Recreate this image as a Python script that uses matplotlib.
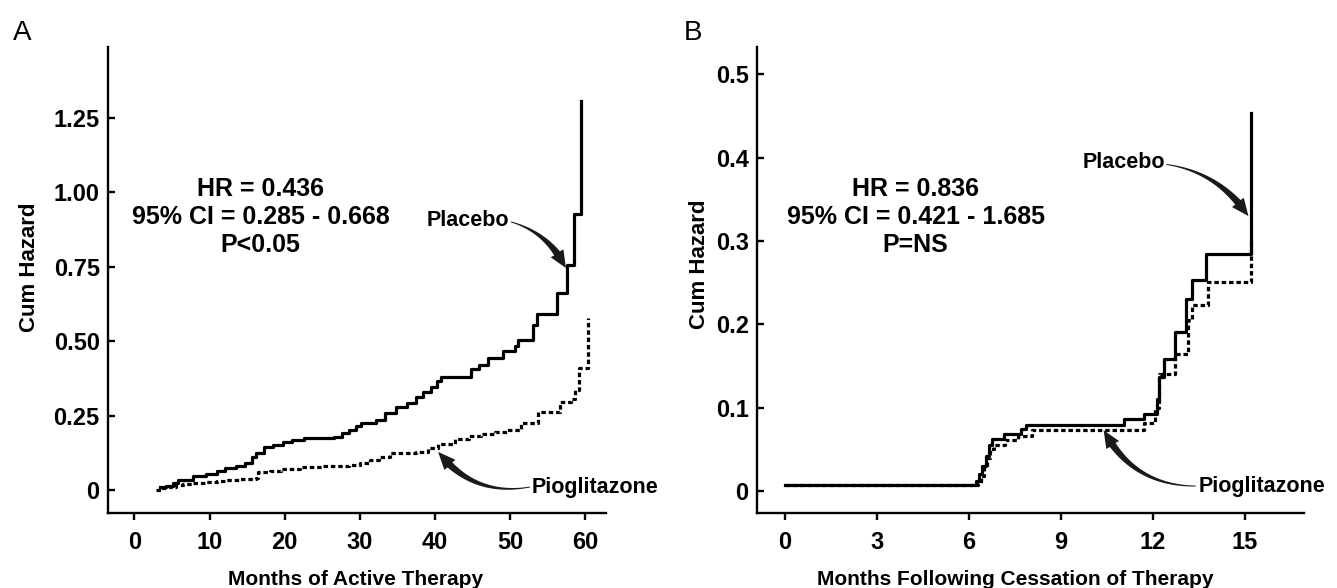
import numpy as np
import matplotlib
matplotlib.use("Agg")
import matplotlib.pyplot as plt
from matplotlib.patches import Polygon
from matplotlib.transforms import IdentityTransform

plt.rcParams["font.family"] = ["Liberation Sans", "DejaVu Sans"]
plt.rcParams["font.weight"] = "bold"
plt.rcParams["axes.labelweight"] = "bold"

# panel A - cumulative hazard during active therapy
a_placebo_months = [3.4, 4.2, 5.2, 5.8, 7.8, 9.5, 11.0, 12.0, 13.5, 14.7, 15.6, 16.2, 17.3, 18.5,
                    19.8, 21.0, 22.6, 24.5, 26.6, 27.6, 28.6, 29.5, 30.2, 32.2, 33.3, 34.8, 36.2,
                    37.5, 38.4, 39.5, 40.2, 40.8, 44.8, 45.9, 47.0, 49.0, 50.6, 51.0, 53.0, 53.5,
                    56.2, 57.6, 58.5, 59.4]
a_placebo_hazard = [0.011, 0.013, 0.022, 0.034, 0.047, 0.055, 0.065, 0.073, 0.082, 0.090, 0.110,
                    0.123, 0.145, 0.152, 0.162, 0.168, 0.173, 0.176, 0.179, 0.190, 0.201, 0.215,
                    0.226, 0.235, 0.260, 0.280, 0.293, 0.313, 0.330, 0.345, 0.367, 0.380, 0.405,
                    0.420, 0.444, 0.466, 0.483, 0.503, 0.554, 0.590, 0.660, 0.755, 0.928, 1.305]
a_pio_months = [2.9, 3.6, 4.5, 5.5, 6.5, 7.8, 9.5, 11.0, 12.0, 14.0, 16.2, 16.5, 18.0, 19.5, 22.0,
                25.0, 28.5, 30.0, 31.3, 32.5, 34.0, 36.0, 37.5, 39.0, 40.4, 42.6, 44.5, 46.1,
                48.0, 49.6, 51.4, 53.7, 56.6, 58.1, 58.6, 59.1, 60.4]
a_pio_hazard = [0.0, 0.006, 0.011, 0.017, 0.020, 0.024, 0.027, 0.031, 0.034, 0.036, 0.039, 0.061,
                0.065, 0.069, 0.076, 0.080, 0.084, 0.090, 0.100, 0.110, 0.123, 0.125, 0.128,
                0.140, 0.156, 0.170, 0.180, 0.188, 0.195, 0.201, 0.224, 0.262, 0.296, 0.305,
                0.336, 0.408, 0.576]

# panel B - cumulative hazard after cessation of therapy
b_placebo_months = [0, 6.25, 6.35, 6.45, 6.55, 6.65, 6.75, 7.16, 7.7, 7.87, 11.05, 11.73, 12.14,
                    12.22, 12.37, 12.74, 13.1, 13.27, 13.74, 15.2]
b_placebo_hazard = [0.007, 0.012, 0.020, 0.030, 0.042, 0.055, 0.063, 0.068, 0.074, 0.079, 0.087,
                    0.092, 0.111, 0.137, 0.159, 0.191, 0.231, 0.253, 0.285, 0.454]
b_pio_months = [0, 6.3, 6.4, 6.5, 6.6, 6.7, 6.82, 7.2, 7.6, 8.05, 11.73, 12.07, 12.22, 12.74,
                13.16, 13.27, 13.79, 15.2]
b_pio_hazard = [0.007, 0.010, 0.018, 0.028, 0.040, 0.050, 0.055, 0.061, 0.066, 0.073, 0.082,
                0.100, 0.141, 0.165, 0.205, 0.223, 0.251, 0.301]

a_xticks = [0, 10, 20, 30, 40, 50, 60]
a_yticks = [0, 0.25, 0.5, 0.75, 1.0, 1.25]
a_yticklabels = ["0", "0.25", "0.50", "0.75", "1.00", "1.25"]
b_xticks = [0, 3, 6, 9, 12, 15]
b_yticks = [0, 0.1, 0.2, 0.3, 0.4, 0.5]
b_yticklabels = ["0", "0.1", "0.2", "0.3", "0.4", "0.5"]

a_stats = "HR = 0.436\n95% CI = 0.285 - 0.668\nP<0.05"
b_stats = "HR = 0.836\n95% CI = 0.421 - 1.685\nP=NS"

fig = plt.figure(figsize=(13.37, 5.88), dpi=100)
ax_a = fig.add_axes([0.0808, 0.1276, 0.3725, 0.7925])
ax_b = fig.add_axes([0.5662, 0.1276, 0.4091, 0.7925])


def style_axes(ax):
    for side in ("top", "right"):
        ax.spines[side].set_visible(False)
    for side in ("left", "bottom"):
        ax.spines[side].set_linewidth(1.7)
    ax.tick_params(axis="x", direction="out", length=5, width=1.7, pad=8, labelsize=17)
    ax.tick_params(axis="y", direction="in", length=5, width=1.7, pad=6, labelsize=17)


def curved_arrow(ax, tail, tip, bend, w_tail=1.0, w_body=7.0, head_len=17, head_w=15):
    # tapered curved arrow, built in pixel space
    p0 = ax.transData.transform(tail)
    p2 = ax.transData.transform(tip)
    d = p2 - p0
    dist = np.hypot(*d)
    n = np.array([-d[1], d[0]]) / dist
    p1 = (p0 + p2) / 2 + bend * dist * n
    t = np.linspace(0, 1, 120)[:, None]
    pts = (1 - t) ** 2 * p0 + 2 * (1 - t) * t * p1 + t ** 2 * p2
    s = np.concatenate([[0], np.cumsum(np.hypot(*np.diff(pts, axis=0).T))])
    keep = s <= s[-1] - head_len
    body, sb = pts[keep], s[keep]
    tang = np.gradient(body, axis=0)
    tang /= np.hypot(tang[:, 0], tang[:, 1])[:, None]
    nrm = np.column_stack([-tang[:, 1], tang[:, 0]])
    w = w_tail + (w_body - w_tail) * (sb / sb[-1]) ** 1.4
    left = body + nrm * w[:, None] / 2
    right = body - nrm * w[:, None] / 2
    hb = body[-1]
    hd = (p2 - hb) / np.hypot(*(p2 - hb))
    hn = np.array([-hd[1], hd[0]])
    head = [hb + hn * head_w / 2, p2, hb - hn * head_w / 2]
    poly = np.vstack([left, head, right[::-1]])
    fig.add_artist(Polygon(poly, closed=True, facecolor="#1a1a1a", edgecolor="none",
                           transform=IdentityTransform(), clip_on=False))


# panel A
style_axes(ax_a)
ax_a.step(a_pio_months, a_pio_hazard, where="post", color="black", lw=2.3, ls=(0, (1.4, 0.9)))
ax_a.step(a_placebo_months, a_placebo_hazard, where="post", color="black", lw=2.3)
ax_a.set_xlim(-3.5, 62.74)
ax_a.set_ylim(-0.077, 1.487)
ax_a.set_xticks(a_xticks)
ax_a.set_yticks(a_yticks)
ax_a.set_yticklabels(a_yticklabels)
ax_a.set_xlabel("Months of Active Therapy", fontsize=15)
ax_a.xaxis.set_label_coords(0.498, -0.122)
ax_a.set_ylabel("Cum Hazard", fontsize=16, va="center")
ax_a.yaxis.set_label_coords(-0.158, 0.528)
ax_a.text(16.8, 0.916, a_stats, ha="center", va="center", fontsize=18, linespacing=1.2)
ax_a.text(49.9, 0.903, "Placebo", ha="right", va="center", fontsize=15.5)
ax_a.text(52.8, 0.01, "Pioglitazone", ha="left", va="center", fontsize=15.5)

# panel B
style_axes(ax_b)
ax_b.step(b_pio_months, b_pio_hazard, where="post", color="black", lw=2.3, ls=(0, (1.4, 0.9)))
ax_b.step(b_placebo_months, b_placebo_hazard, where="post", color="black", lw=2.3)
ax_b.set_xlim(-0.9, 16.93)
ax_b.set_ylim(-0.0263, 0.533)
ax_b.set_xticks(b_xticks)
ax_b.set_yticks(b_yticks)
ax_b.set_yticklabels(b_yticklabels)
ax_b.set_xlabel("Months Following Cessation of Therapy", fontsize=15)
ax_b.xaxis.set_label_coords(0.473, -0.122)
ax_b.set_ylabel("Cum Hazard", fontsize=16, va="center")
ax_b.yaxis.set_label_coords(-0.105, 0.534)
ax_b.text(4.27, 0.329, b_stats, ha="center", va="center", fontsize=18, linespacing=1.2)
ax_b.text(12.4, 0.394, "Placebo", ha="right", va="center", fontsize=15.5)
ax_b.text(13.5, 0.006, "Pioglitazone", ha="left", va="center", fontsize=15.5)

# annotation arrows
curved_arrow(ax_a, (50.1, 0.90), (57.4, 0.745), 0.22)
curved_arrow(ax_a, (52.6, 0.01), (40.4, 0.128), 0.30)
curved_arrow(ax_b, (12.45, 0.392), (15.12, 0.33), 0.22)
curved_arrow(ax_b, (13.4, 0.006), (10.4, 0.073), 0.30)

fig.text(22 / 1337, 1 - 33 / 588, "A", fontsize=20, fontweight="normal", ha="center", va="center")
fig.text(693 / 1337, 1 - 33 / 588, "B", fontsize=20, fontweight="normal", ha="center", va="center")

fig.savefig("out.png", dpi=100)
